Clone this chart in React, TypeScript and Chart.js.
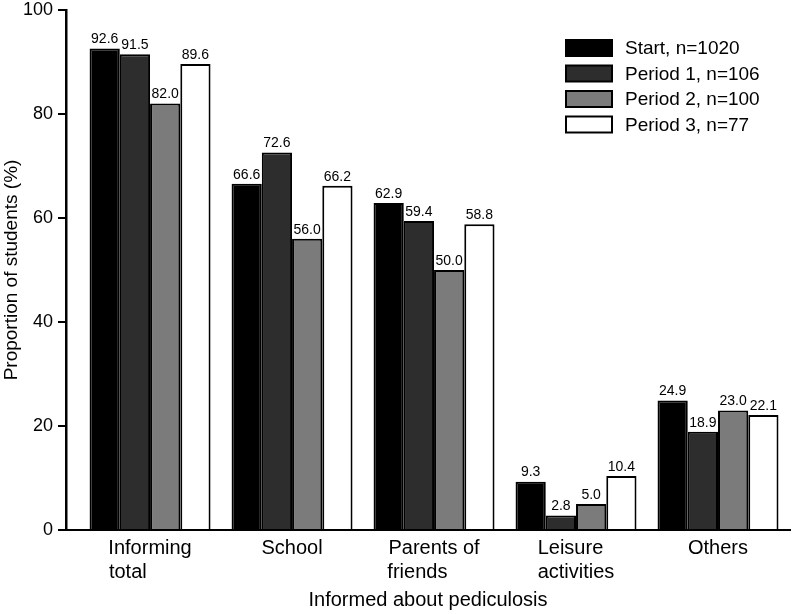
import React, { useEffect, useRef } from 'react';
import { Chart, registerables } from 'chart.js';
Chart.register(...registerables);

const categories: string[][] = [["Informing", "total"], ["School"], ["Parents of", "friends"], ["Leisure", "activities"], ["Others"]];
const seriesLabels = ["Start, n=1020", "Period 1, n=106", "Period 2, n=100", "Period 3, n=77"];
const startValues = [92.6, 66.6, 62.9, 9.3, 24.9];
const period1Values = [91.5, 72.6, 59.4, 2.8, 18.9];
const period2Values = [82.0, 56.0, 50.0, 5.0, 23.0];
const period3Values = [89.6, 66.2, 58.8, 10.4, 22.1];
const seriesColors = ["#000000", "#2d2d2d", "#7b7b7b", "#ffffff"];
const yTickValues = [0, 20, 40, 60, 80, 100];
const xTitle = "Informed about pediculosis";
const yTitle = "Proportion of students (%)";

const FONT = "'Liberation Sans', Arial, Helvetica, sans-serif";

function padLines(lines: string[], size: number): string[] {
  const c = document.createElement('canvas').getContext('2d')!;
  c.font = `${size}px ${FONT}`;
  const widths = lines.map(l => c.measureText(l).width);
  const maxW = Math.max(...widths);
  const sp = c.measureText(' ').width;
  return lines.map((l, i) => {
    let s = l;
    let w = widths[i];
    while (w + sp * 0.5 < maxW) { s += ' '; w += sp; }
    return s;
  });
}

const valueLabelPlugin = {
  id: 'valueLabels',
  afterDatasetsDraw(chart: any) {
    const ctx = chart.ctx;
    ctx.save();
    ctx.font = `14px ${FONT}`;
    ctx.fillStyle = '#000';
    ctx.textAlign = 'center';
    ctx.textBaseline = 'bottom';
    chart.data.datasets.forEach((ds: any, di: number) => {
      const meta = chart.getDatasetMeta(di);
      meta.data.forEach((el: any, i: number) => {
        const v = ds.data[i].y;
        ctx.fillText(v.toFixed(1), el.x, el.y - 2);
      });
    });
    ctx.restore();
  },
};

const legendPlugin = {
  id: 'customLegend',
  afterDraw(chart: any) {
    const ctx = chart.ctx;
    ctx.save();
    const x0 = 566, y0 = 40, bw = 46, bh = 16, gap = 25.5;
    ctx.font = `19px ${FONT}`;
    ctx.textBaseline = 'middle';
    ctx.textAlign = 'left';
    chart.data.datasets.forEach((ds: any, i: number) => {
      const y = y0 + gap * i;
      ctx.fillStyle = ds.backgroundColor;
      ctx.fillRect(x0, y, bw, bh);
      ctx.strokeStyle = '#000';
      ctx.lineWidth = 2;
      ctx.strokeRect(x0, y, bw, bh);
      ctx.fillStyle = '#000';
      ctx.fillText(ds.label, x0 + 59, y + bh / 2 + 1);
    });
    ctx.restore();
  },
};

export default function App() {
  const ref = useRef<HTMLCanvasElement>(null);
  useEffect(() => {
    const series = [startValues, period1Values, period2Values, period3Values];
    const chart = new Chart(ref.current!, {
      type: 'bar',
      data: {
        datasets: series.map((vals, si) => ({
          label: seriesLabels[si],
          data: vals.map((v, i) => ({ x: i, y: v })),
          backgroundColor: seriesColors[si],
          borderColor: '#000',
          borderWidth: 2,
          borderSkipped: 'bottom',
          categoryPercentage: 0.852,
          barPercentage: 1,
        })),
      },
      options: {
        animation: false,
        responsive: false,
        maintainAspectRatio: false,
        layout: { padding: { top: 10, right: 2, left: 0, bottom: 0 } },
        plugins: { legend: { display: false }, tooltip: { enabled: false } },
        scales: {
          x: {
            type: 'linear',
            min: -0.592,
            max: 4.507,
            offset: false,
            afterFit(scale: any) { scale.height = 84; },
            afterBuildTicks(scale: any) { scale.ticks = categories.map((_, i) => ({ value: i })); },
            grid: { display: false, drawTicks: false },
            border: { display: true, color: '#000', width: 2 },
            ticks: {
              autoSkip: false,
              maxRotation: 0,
              padding: 6,
              color: '#000',
              font: { family: FONT, size: 20, lineHeight: 1.22 },
              callback: (value: any) => {
                const c = categories[Math.round(Number(value))];
                return c ? padLines(c, 20) : '';
              },
            },
            title: {
              display: true,
              text: xTitle,
              color: '#000',
              font: { family: FONT, size: 20, lineHeight: 1.2 },
              padding: { top: 0, bottom: 2 },
            },
          },
          y: {
            min: 0,
            max: 100,
            afterFit(scale: any) { scale.width = 66; },
            afterBuildTicks(scale: any) { scale.ticks = yTickValues.map(v => ({ value: v })); },
            grid: { drawOnChartArea: false, drawTicks: true, tickLength: 8, color: '#000', lineWidth: 2 },
            border: { display: true, color: '#000', width: 2.5 },
            ticks: {
              padding: 5,
              color: '#000',
              font: { family: FONT, size: 18, lineHeight: 0.55 },
            },
            title: {
              display: true,
              text: yTitle,
              color: '#000',
              font: { family: FONT, size: 19, lineHeight: 1.2 },
              padding: { top: 0, bottom: 0 },
            },
          },
        },
      },
      plugins: [valueLabelPlugin, legendPlugin],
    } as any);
    return () => chart.destroy();
  }, []);
  return (
    <div style={{ position: 'fixed', left: 0, top: 0, width: 792, height: 614, background: '#fff' }}>
      <canvas ref={ref} width={792} height={614} style={{ width: 792, height: 614, display: 'block' }} />
    </div>
  );
}
